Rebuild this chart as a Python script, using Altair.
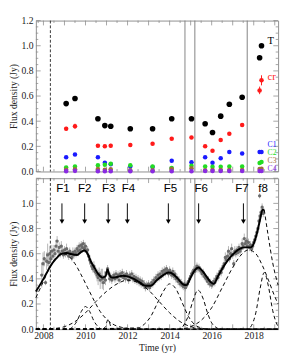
import altair as alt
import pandas as pd

SERIF = "Liberation Serif"
SANS = "Liberation Sans"
W, H = 252, 157
X_DOMAIN = [2007.64, 2019.16]
Y_DOMAIN = [0.0, 1.2]

# ---------------- top panel: component fluxes ----------------
epoch_year = [2009.08, 2009.50, 2010.59, 2010.92, 2011.20, 2012.13, 2013.19, 2014.10,
              2015.04, 2015.69, 2016.04, 2016.43, 2016.84, 2017.45, 2018.28, 2018.37]
flux_T = [0.54, 0.58, 0.42, 0.365, 0.36, 0.34, 0.34, 0.42,
          0.42, 0.38, 0.31, 0.44, 0.535, 0.59, 0.905, 1.0]
flux_cr = [0.34, 0.36, 0.205, 0.20, 0.205, 0.21, 0.22, 0.26,
           0.27, 0.20, 0.165, 0.25, 0.30, 0.37, 0.645, 0.725]
err_cr = [0.015, 0.02, 0.012, 0.012, 0.015, 0.01, 0.01, 0.01,
          0.01, 0.01, 0.01, 0.01, 0.01, 0.015, 0.03, 0.04]
flux_C1 = [0.113, 0.135, 0.113, 0.07, 0.058, 0.04, 0.035, 0.085,
           0.073, 0.113, 0.07, 0.105, 0.155, 0.143, 0.155, 0.155]
flux_C2 = [0.032, 0.04, 0.05, 0.053, 0.062, 0.05, 0.04, 0.028,
           0.045, 0.04, 0.037, 0.037, 0.04, 0.04, 0.068, 0.075]
flux_C3 = [0.013, 0.018, 0.02, 0.013, 0.018, 0.01, 0.01, 0.02,
           0.025, 0.01, 0.012, 0.012, 0.012, 0.012, 0.02, 0.022]
flux_C4 = [0.003, 0.005, 0.002, 0.002, 0.002, 0.003, 0.002, 0.002,
           0.003, 0.004, 0.004, 0.004, 0.004, 0.004, 0.004, 0.004]

comp_names = ["T", "cr", "C1", "C2", "C3", "C4"]
comp_colors = ["#000000", "#ff1a1a", "#1a1aff", "#22dd22", "#a0703a", "#8a2be2"]
comp_label_year = 2018.66
comp_label_flux = [1.035, 0.75, 0.21, 0.143, 0.083, 0.023]
comp_label_size = [11, 11, 8, 8, 8, 8]

# vertical markers
dashed_line_year = [2008.33]
gray_line_year = [2014.73, 2015.20, 2017.69]

# ---------------- bottom panel: light curve ----------------
obs_year = [2007.92, 2007.98, 2008.04, 2008.10, 2008.15, 2008.20, 2008.25, 2008.30, 2008.35, 2008.40,
            2008.45, 2008.50, 2008.55, 2008.60, 2008.65, 2008.70, 2008.75, 2008.80, 2008.85, 2008.90,
            2008.95, 2009.00, 2009.05, 2009.10, 2009.15, 2009.20, 2009.25, 2009.30, 2009.35, 2009.40,
            2009.45, 2009.50, 2009.55, 2009.60, 2009.65, 2009.70, 2009.75, 2009.80, 2009.85, 2009.90,
            2009.95, 2010.00, 2010.05, 2010.10, 2010.15, 2010.20, 2010.25, 2010.30, 2010.35, 2010.40,
            2010.45, 2010.50, 2010.55, 2010.60, 2010.65, 2010.70, 2010.75, 2010.80, 2010.85, 2010.90,
            2010.95, 2011.00, 2011.05, 2011.10, 2011.15, 2011.20, 2011.25, 2011.30, 2011.35, 2011.40,
            2011.45, 2011.50, 2011.55, 2011.60, 2011.65, 2011.70, 2011.75, 2011.80, 2011.85, 2011.90,
            2011.95, 2012.00, 2012.05, 2012.10, 2012.15, 2012.20, 2012.25, 2012.30, 2012.35, 2012.40,
            2012.45, 2012.50, 2012.55, 2012.60, 2012.65, 2012.70, 2012.75, 2012.80, 2012.85, 2012.90,
            2012.95, 2013.00, 2013.05, 2013.10, 2013.15, 2013.20, 2013.25, 2013.30, 2013.35, 2013.40,
            2013.45, 2013.50, 2013.55, 2013.60, 2013.65, 2013.70, 2013.75, 2013.80, 2013.85, 2013.90,
            2013.95, 2014.00, 2014.05, 2014.10, 2014.15, 2014.20, 2014.25, 2014.30, 2014.35, 2014.40,
            2014.45, 2014.50, 2014.55, 2014.60, 2014.65, 2014.70, 2014.75, 2014.80, 2014.85, 2014.90,
            2014.95, 2015.00, 2015.05, 2015.10, 2015.15, 2015.20, 2015.25, 2015.30, 2015.35, 2015.40,
            2015.45, 2015.50, 2015.55, 2015.60, 2015.65, 2015.70, 2015.75, 2015.80, 2015.85, 2015.90,
            2015.95, 2016.00, 2016.05, 2016.10, 2016.15, 2016.20, 2016.25, 2016.30, 2016.35, 2016.40,
            2016.45, 2016.50, 2016.55, 2016.60, 2016.65, 2016.70, 2016.75, 2016.80, 2016.85, 2016.90,
            2016.95, 2017.00, 2017.05, 2017.10, 2017.15, 2017.20, 2017.25, 2017.30, 2017.35, 2017.40,
            2017.45, 2017.50, 2017.55, 2017.60, 2017.65, 2017.70, 2017.75, 2017.80, 2017.85, 2017.90,
            2017.95, 2018.00, 2018.05, 2018.10, 2018.15, 2018.20, 2018.25, 2018.28, 2018.30, 2018.35,
            2018.40, 2018.42, 2018.45]
obs_flux = [0.43, 0.52, 0.56, 0.37, 0.54, 0.59, 0.53, 0.60, 0.56, 0.62,
            0.58, 0.63, 0.60, 0.66, 0.70, 0.62, 0.65, 0.60, 0.66, 0.62,
            0.59, 0.63, 0.60, 0.64, 0.61, 0.58, 0.62, 0.60, 0.57, 0.61,
            0.59, 0.62, 0.60, 0.64, 0.62, 0.66, 0.63, 0.67, 0.65, 0.68,
            0.64, 0.66, 0.62, 0.63, 0.58, 0.55, 0.53, 0.50, 0.48, 0.50,
            0.46, 0.45, 0.43, 0.41, 0.44, 0.39, 0.42, 0.40, 0.37, 0.41,
            0.39, 0.45, 0.48, 0.44, 0.40, 0.42, 0.39, 0.41, 0.43, 0.40,
            0.44, 0.41, 0.43, 0.39, 0.44, 0.42, 0.45, 0.41, 0.43, 0.40,
            0.44, 0.42, 0.39, 0.43, 0.41, 0.44, 0.40, 0.42, 0.39, 0.41,
            0.38, 0.40, 0.37, 0.39, 0.36, 0.38, 0.35, 0.36, 0.33, 0.35,
            0.34, 0.36, 0.33, 0.35, 0.37, 0.36, 0.39, 0.38, 0.41, 0.40,
            0.43, 0.41, 0.44, 0.42, 0.46, 0.44, 0.47, 0.45, 0.48, 0.46,
            0.44, 0.47, 0.45, 0.43, 0.46, 0.42, 0.44, 0.40, 0.41, 0.38,
            0.39, 0.36, 0.37, 0.35, 0.34, 0.36, 0.33, 0.35, 0.36, 0.38,
            0.40, 0.42, 0.44, 0.45, 0.47, 0.46, 0.48, 0.50, 0.48, 0.49,
            0.47, 0.46, 0.44, 0.45, 0.42, 0.41, 0.40, 0.38, 0.39, 0.36,
            0.37, 0.35, 0.36, 0.38, 0.37, 0.40, 0.42, 0.41, 0.44, 0.46,
            0.45, 0.48, 0.50, 0.52, 0.57, 0.55, 0.58, 0.62, 0.56, 0.60,
            0.64, 0.59, 0.52, 0.62, 0.60, 0.63, 0.61, 0.65, 0.62, 0.64,
            0.68, 0.66, 0.72, 0.68, 0.70, 0.66, 0.69, 0.65, 0.67, 0.64,
            0.66, 0.69, 0.71, 0.74, 0.77, 0.80, 0.86, 1.06, 0.90, 0.93,
            0.97, 0.94, 0.92]
obs_err = [0.10, 0.09, 0.06, 0.02, 0.07, 0.09, 0.05, 0.06, 0.04, 0.05,
           0.03, 0.04, 0.03, 0.05, 0.04, 0.03, 0.04, 0.03, 0.04, 0.03,
           0.03, 0.03, 0.03, 0.04, 0.03, 0.03, 0.03, 0.03, 0.03, 0.04,
           0.03, 0.03, 0.03, 0.03, 0.04, 0.03, 0.03, 0.03, 0.04, 0.03,
           0.03, 0.03, 0.03, 0.03, 0.03, 0.04, 0.03, 0.03, 0.03, 0.04,
           0.03, 0.04, 0.05, 0.06, 0.05, 0.07, 0.06, 0.08, 0.06, 0.05,
           0.04, 0.03, 0.03, 0.03, 0.03, 0.03, 0.03, 0.03, 0.03, 0.03,
           0.03, 0.03, 0.03, 0.03, 0.03, 0.03, 0.03, 0.03, 0.03, 0.03,
           0.03, 0.03, 0.03, 0.03, 0.03, 0.03, 0.03, 0.03, 0.03, 0.03,
           0.03, 0.03, 0.03, 0.03, 0.03, 0.03, 0.03, 0.03, 0.03, 0.03,
           0.03, 0.03, 0.03, 0.03, 0.03, 0.03, 0.03, 0.03, 0.03, 0.03,
           0.03, 0.03, 0.03, 0.03, 0.03, 0.03, 0.03, 0.03, 0.03, 0.03,
           0.03, 0.03, 0.03, 0.03, 0.03, 0.03, 0.03, 0.03, 0.03, 0.03,
           0.03, 0.03, 0.03, 0.03, 0.03, 0.03, 0.03, 0.03, 0.03, 0.03,
           0.03, 0.03, 0.03, 0.03, 0.03, 0.03, 0.03, 0.03, 0.03, 0.03,
           0.03, 0.03, 0.03, 0.03, 0.03, 0.03, 0.03, 0.03, 0.03, 0.03,
           0.03, 0.03, 0.03, 0.03, 0.03, 0.03, 0.03, 0.03, 0.03, 0.03,
           0.03, 0.03, 0.03, 0.04, 0.04, 0.03, 0.04, 0.04, 0.03, 0.04,
           0.04, 0.03, 0.03, 0.04, 0.03, 0.03, 0.03, 0.03, 0.03, 0.03,
           0.04, 0.03, 0.04, 0.03, 0.03, 0.03, 0.03, 0.03, 0.03, 0.03,
           0.03, 0.03, 0.03, 0.03, 0.03, 0.03, 0.03, 0.02, 0.03, 0.03,
           0.03, 0.03, 0.03]

# total model curve (solid)
model_year = [2007.64, 2007.90, 2008.10, 2008.33, 2008.60, 2008.88, 2009.10, 2009.35, 2009.60, 2009.80,
              2009.95, 2010.10, 2010.25, 2010.42, 2010.60, 2010.80, 2010.95, 2011.05, 2011.12, 2011.25,
              2011.50, 2011.75, 2012.00, 2012.30, 2012.60, 2012.85, 2013.10, 2013.40, 2013.70, 2013.95,
              2014.15, 2014.40, 2014.65, 2014.80, 2015.00, 2015.20, 2015.37, 2015.55, 2015.75, 2015.95,
              2016.10, 2016.30, 2016.50, 2016.80, 2017.10, 2017.35, 2017.60, 2017.85, 2018.00, 2018.15,
              2018.30, 2018.42, 2018.50]
model_flux = [0.30, 0.37, 0.43, 0.50, 0.56, 0.60, 0.605, 0.595, 0.59, 0.615,
              0.625, 0.60, 0.54, 0.49, 0.44, 0.41, 0.42, 0.475, 0.44, 0.41,
              0.415, 0.425, 0.42, 0.40, 0.37, 0.345, 0.345, 0.39, 0.43, 0.45,
              0.44, 0.40, 0.355, 0.35, 0.41, 0.47, 0.49, 0.465, 0.42, 0.375,
              0.36, 0.42, 0.48, 0.555, 0.61, 0.64, 0.65, 0.65, 0.68, 0.76,
              0.87, 0.95, 0.95]

# dashed curves: individual flare components and model extension
f1_year = [2007.64, 2008.00, 2008.30, 2008.60, 2008.90, 2009.20, 2009.50, 2009.80, 2010.10, 2010.40,
           2010.70, 2011.00, 2011.30, 2011.70, 2012.20, 2012.80, 2019.16]
f1_flux = [0.25, 0.38, 0.49, 0.57, 0.60, 0.58, 0.52, 0.43, 0.33, 0.23,
           0.14, 0.08, 0.04, 0.015, 0.003, 0.0, 0.0]
f2_year = [2007.64, 2009.20, 2009.40, 2009.60, 2009.80, 2010.00, 2010.20, 2010.40, 2010.60, 2010.80, 2019.16]
f2_flux = [0.0, 0.0, 0.02, 0.065, 0.14, 0.18, 0.14, 0.065, 0.02, 0.0, 0.0]
f3_year = [2007.64, 2010.80, 2010.95, 2011.00, 2011.07, 2011.15, 2011.20, 2011.35, 2019.16]
f3_flux = [0.0, 0.0, 0.02, 0.05, 0.075, 0.05, 0.02, 0.0, 0.0]
f4_year = [2007.64, 2008.50, 2009.00, 2009.50, 2010.00, 2010.50, 2011.00, 2011.50, 2012.00, 2012.50,
           2013.00, 2013.50, 2014.00, 2014.50, 2015.00, 2015.50, 2016.00, 2019.16]
f4_flux = [0.0, 0.005, 0.02, 0.06, 0.13, 0.22, 0.30, 0.36, 0.39, 0.37,
           0.31, 0.22, 0.13, 0.06, 0.02, 0.005, 0.0, 0.0]
f5_year = [2007.64, 2012.50, 2012.80, 2013.10, 2013.40, 2013.70, 2014.00, 2014.30, 2014.60, 2014.90,
           2015.20, 2015.50, 2015.80, 2019.16]
f5_flux = [0.0, 0.01, 0.04, 0.10, 0.20, 0.30, 0.36, 0.32, 0.21, 0.10,
           0.035, 0.01, 0.0, 0.0]
f6_year = [2007.64, 2014.50, 2014.70, 2014.90, 2015.10, 2015.35, 2015.60, 2015.80, 2016.00, 2016.20,
           2016.40, 2019.16]
f6_flux = [0.0, 0.0, 0.04, 0.11, 0.22, 0.31, 0.24, 0.13, 0.05, 0.015,
           0.0, 0.0]
f7_year = [2007.64, 2014.50, 2015.00, 2015.50, 2016.00, 2016.50, 2017.00, 2017.40, 2017.75, 2018.10,
           2018.40, 2018.70, 2019.00, 2019.16]
f7_flux = [0.0, 0.0, 0.02, 0.07, 0.17, 0.33, 0.49, 0.59, 0.63, 0.60,
           0.51, 0.39, 0.26, 0.20]
f8_year = [2007.64, 2017.70, 2017.90, 2018.10, 2018.30, 2018.50, 2018.70, 2018.90, 2019.10, 2019.16]
f8_flux = [0.0, 0.0, 0.03, 0.13, 0.32, 0.45, 0.34, 0.15, 0.04, 0.02]
ext_year = [2018.50, 2018.70, 2018.90, 2019.16]
ext_flux = [0.95, 0.73, 0.53, 0.35]

# flare markers
arrow_year = [2008.88, 2009.96, 2011.08, 2011.99, 2013.94, 2015.38, 2017.51]
arrow_top = 1.0
arrow_tip = 0.855
flare_names = ["F1", "F2", "F3", "F4", "F5", "F6", "F7", "f8"]
flare_label_year = [2008.93, 2009.96, 2011.10, 2012.04, 2014.04, 2015.50, 2017.44, 2018.44]
flare_label_flux = 1.125

# frame ticks
y_major = [0.0, 0.2, 0.4, 0.6, 0.8, 1.0, 1.2]
y_minor = [0.05, 0.1, 0.15, 0.25, 0.3, 0.35, 0.45, 0.5, 0.55, 0.65, 0.7, 0.75,
           0.85, 0.9, 0.95, 1.05, 1.1, 1.15]
x_major = [2008, 2009, 2010, 2011, 2012, 2013, 2014, 2015, 2016, 2017, 2018, 2019]
x_minor = [2007.75, 2008.5, 2009.5, 2010.5, 2011.5, 2012.5, 2013.5, 2014.5, 2015.5,
           2016.5, 2017.5, 2018.5]
bottom_y_labels = [0.0, 0.2, 0.4, 0.6, 0.8, 1.0]
bottom_x_labels = [2008, 2010, 2012, 2014, 2016, 2018]

# ---------------- build ----------------
FRAME = "#8c8c8c"
xs = alt.Scale(domain=X_DOMAIN, nice=False, zero=False)
ys = alt.Scale(domain=Y_DOMAIN, nice=False, zero=False)

axis_common = dict(ticks=False, grid=False, domain=False, labelFont=SERIF, labelFontSize=10,
                   titleFont=SERIF, titleFontSize=10, titleFontWeight="normal",
                   labelColor="#222222", titleColor="#222222")
y_top_axis = alt.Axis(values=y_major, format=".1f", title="Flux density (Jy)",
                      labelPadding=3, titlePadding=3, **axis_common)
y_bot_axis = alt.Axis(values=bottom_y_labels, format=".1f", title="Flux density (Jy)",
                      labelPadding=3, titlePadding=3, **axis_common)
x_bot_axis = alt.Axis(values=bottom_x_labels, format="d", title="Time (yr)",
                      labelPadding=2, titlePadding=2, **axis_common)


def X(field, ax):
    return alt.X(field, scale=xs, axis=ax)


def Y(field, ax):
    return alt.Y(field, scale=ys, axis=ax)


def frame_ticks(xa, ya):
    layers = []
    for vals, ln in [(y_major, 5), (y_minor, 2.5)]:
        df = pd.DataFrame({"v": vals})
        layers.append(alt.Chart(df).mark_rule(color=FRAME, strokeWidth=0.8).encode(
            y=Y("v:Q", ya), x=alt.value(0), x2=alt.value(ln)))
        layers.append(alt.Chart(df).mark_rule(color=FRAME, strokeWidth=0.8).encode(
            y=Y("v:Q", ya), x=alt.value(W - ln), x2=alt.value(W)))
    for vals, ln in [(x_major, 5), (x_minor, 2.5)]:
        df = pd.DataFrame({"v": vals})
        layers.append(alt.Chart(df).mark_rule(color=FRAME, strokeWidth=0.8).encode(
            x=X("v:Q", xa), y=alt.value(H), y2=alt.value(H - ln)))
        layers.append(alt.Chart(df).mark_rule(color=FRAME, strokeWidth=0.8).encode(
            x=X("v:Q", xa), y=alt.value(0), y2=alt.value(ln)))
    return layers


def vlines(xa):
    d1 = pd.DataFrame({"yr": dashed_line_year})
    d2 = pd.DataFrame({"yr": gray_line_year})
    return [
        alt.Chart(d2).mark_rule(color="#808080", strokeWidth=1).encode(x=X("yr:Q", xa)),
        alt.Chart(d1).mark_rule(color="#333333", strokeWidth=1, strokeDash=[3, 2]).encode(
            x=X("yr:Q", xa)),
    ]


# top panel data
rows = []
for name, vals in zip(comp_names, [flux_T, flux_cr, flux_C1, flux_C2, flux_C3, flux_C4]):
    for yr, v in zip(epoch_year, vals):
        rows.append({"yr": yr, "flux": v, "comp": name})
top_df = pd.DataFrame(rows)
cr_df = pd.DataFrame({"yr": epoch_year, "lo": [a - e for a, e in zip(flux_cr, err_cr)],
                      "hi": [a + e for a, e in zip(flux_cr, err_cr)]})
lab_df = pd.DataFrame({"comp": comp_names, "flux": comp_label_flux,
                       "yr": [comp_label_year] * len(comp_names), "size": comp_label_size})
color_scale = alt.Scale(domain=comp_names, range=comp_colors)
CLR = alt.Color("comp:N", scale=color_scale, legend=None)

xa_t, ya_t = None, y_top_axis
top_layers = frame_ticks(xa_t, ya_t) + vlines(xa_t) + [
    alt.Chart(cr_df).mark_rule(color="#ff1a1a", strokeWidth=1).encode(
        x=X("yr:Q", xa_t), y=Y("lo:Q", ya_t), y2="hi:Q"),
    alt.Chart(top_df[top_df.comp == "T"]).mark_circle(opacity=1, size=34).encode(
        x=X("yr:Q", xa_t), y=Y("flux:Q", ya_t), color=CLR),
    alt.Chart(top_df[top_df.comp != "T"]).mark_circle(opacity=1, size=22).encode(
        x=X("yr:Q", xa_t), y=Y("flux:Q", ya_t), color=CLR),
    alt.Chart(lab_df[lab_df["size"] > 9]).mark_text(font=SERIF, fontSize=11, align="left").encode(
        x=X("yr:Q", xa_t), y=Y("flux:Q", ya_t), text="comp:N", color=CLR),
    alt.Chart(lab_df[lab_df["size"] < 9]).mark_text(font=SERIF, fontSize=8, align="left").encode(
        x=X("yr:Q", xa_t), y=Y("flux:Q", ya_t), text="comp:N", color=CLR),
]
top = alt.layer(*top_layers).properties(width=W, height=H)

# bottom panel data
obs_df = pd.DataFrame({"yr": obs_year, "flux": obs_flux,
                       "lo": [f - e for f, e in zip(obs_flux, obs_err)],
                       "hi": [f + e for f, e in zip(obs_flux, obs_err)]})
model_df = pd.DataFrame({"yr": model_year, "flux": model_flux})
comp_rows = []
for name, yrs, vals in [("F1", f1_year, f1_flux), ("F2", f2_year, f2_flux), ("F3", f3_year, f3_flux),
                        ("F4", f4_year, f4_flux), ("F5", f5_year, f5_flux), ("F6", f6_year, f6_flux),
                        ("F7", f7_year, f7_flux), ("f8", f8_year, f8_flux), ("ext", ext_year, ext_flux)]:
    for yr, v in zip(yrs, vals):
        comp_rows.append({"yr": yr, "flux": v, "comp": name})
comp_df = pd.DataFrame(comp_rows)
arrow_df = pd.DataFrame({"yr": arrow_year, "top": [arrow_top] * len(arrow_year),
                         "tip": [arrow_tip] * len(arrow_year)})
flab_df = pd.DataFrame({"name": flare_names, "yr": flare_label_year,
                        "flux": [flare_label_flux] * len(flare_names)})

xa_b, ya_b = x_bot_axis, y_bot_axis
bottom_layers = frame_ticks(xa_b, ya_b) + vlines(xa_b) + [
    alt.Chart(obs_df).mark_rule(color="#a0a0a0", strokeWidth=0.8).encode(
        x=X("yr:Q", xa_b), y=Y("lo:Q", ya_b), y2="hi:Q"),
    alt.Chart(obs_df).mark_circle(color="#666666", opacity=0.95, size=12).encode(
        x=X("yr:Q", xa_b), y=Y("flux:Q", ya_b)),
    alt.Chart(comp_df).mark_line(color="black", strokeWidth=1, strokeDash=[4, 3],
                                 interpolate="monotone").encode(
        x=X("yr:Q", xa_b), y=Y("flux:Q", ya_b), detail="comp:N"),
    alt.Chart(model_df).mark_line(color="black", strokeWidth=2, interpolate="monotone").encode(
        x=X("yr:Q", xa_b), y=Y("flux:Q", ya_b)),
    alt.Chart(arrow_df).mark_rule(color="black", strokeWidth=1).encode(
        x=X("yr:Q", xa_b), y=Y("top:Q", ya_b), y2="tip:Q"),
    alt.Chart(arrow_df).mark_point(shape="triangle-down", filled=True, color="black",
                                   opacity=1, size=26).encode(
        x=X("yr:Q", xa_b), y=Y("tip:Q", ya_b)),
    alt.Chart(flab_df).mark_text(font=SANS, fontSize=12, color="black").encode(
        x=X("yr:Q", xa_b), y=Y("flux:Q", ya_b), text="name:N"),
]
bottom = alt.layer(*bottom_layers).properties(width=W, height=H)

chart = alt.vconcat(top, bottom, spacing=0).properties(padding=0).configure_view(
    stroke=FRAME, strokeWidth=1)

chart.save("out.html", embed_options={"renderer": "svg", "actions": False})
